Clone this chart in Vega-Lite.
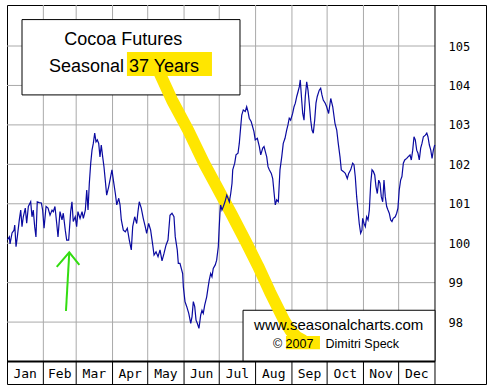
{
"$schema":"https://vega.github.io/schema/vega-lite/v6.json",
"width":479,"height":379,
"autosize":{"type":"none"},
"padding":{"left":7,"top":5,"right":5,"bottom":4},
"background":"white",
"config":{"view":{"stroke":"black","strokeWidth":1}},
"encoding":{
 "x":{"field":"d","type":"quantitative","scale":{"domain":[0,408.5],"nice":false,"zero":false},"axis":null},
 "y":{"field":"v","type":"quantitative","scale":{"domain":[96.43,106.04],"nice":false,"zero":false},
  "axis":{"orient":"right","values":[98,99,100,101,102,103,104,105],"ticks":false,"tickSize":0,"domain":false,"grid":false,"labelPadding":-38,"labelFont":"DejaVu Sans Mono","labelFontSize":12,"labelColor":"black","labelAlign":"left","title":null}}
},
"layer":[
 {"data":{"values":[{"v":98,"d":0,"d2":365},{"v":99,"d":0,"d2":365},{"v":100,"d":0,"d2":365},{"v":101,"d":0,"d2":365},{"v":102,"d":0,"d2":365},{"v":103,"d":0,"d2":365},{"v":104,"d":0,"d2":365},{"v":105,"d":0,"d2":365}]},
  "mark":{"type":"rule","color":"#aaaaaa","strokeWidth":1},
  "encoding":{"x2":{"field":"d2"}}},
 {"data":{"values":[{"d":31,"v":97,"v2":106.04},{"d":59,"v":97,"v2":106.04},{"d":90,"v":97,"v2":106.04},{"d":120,"v":97,"v2":106.04},{"d":151,"v":97,"v2":106.04},{"d":181,"v":97,"v2":106.04},{"d":212,"v":97,"v2":106.04},{"d":243,"v":97,"v2":106.04},{"d":273,"v":97,"v2":106.04},{"d":304,"v":97,"v2":106.04},{"d":334,"v":97,"v2":106.04}]},
  "mark":{"type":"rule","color":"#aaaaaa","strokeWidth":1},
  "encoding":{"y2":{"field":"v2"}}},
 {"data":{"values":[{"d":31,"v":96.43,"v2":97},{"d":59,"v":96.43,"v2":97},{"d":90,"v":96.43,"v2":97},{"d":120,"v":96.43,"v2":97},{"d":151,"v":96.43,"v2":97},{"d":181,"v":96.43,"v2":97},{"d":212,"v":96.43,"v2":97},{"d":243,"v":96.43,"v2":97},{"d":273,"v":96.43,"v2":97},{"d":304,"v":96.43,"v2":97},{"d":334,"v":96.43,"v2":97},{"d":365,"v":96.43,"v2":106.04}]},
  "mark":{"type":"rule","color":"black","strokeWidth":1},
  "encoding":{"y2":{"field":"v2"}}},
 {"data":{"values":[{"d":12.8,"d2":198.7,"v":105.67,"v2":103.76},{"d":201.3,"d2":365,"v":98.30,"v2":97.0}]},
  "mark":{"type":"rect","fill":"white","stroke":"black","strokeWidth":1},
  "encoding":{"x2":{"field":"d2"},"y2":{"field":"v2"}}},
 {"data":{"values":[{"v":97,"d":0,"d2":365}]},
  "mark":{"type":"rule","color":"black","strokeWidth":2},
  "encoding":{"x2":{"field":"d2"}}},
 {"data":{"values":[{"d":102.3,"d2":174.8,"v":104.85,"v2":104.24},{"d":237.9,"d2":266.9,"v":97.645,"v2":97.31}]},
  "mark":{"type":"rect","fill":"#ffe600"},
  "encoding":{"x2":{"field":"d2"},"y2":{"field":"v2"}}},
 {"data":{"values":[
  {"o":1,"d":130.5,"v":104.29},{"o":2,"d":140.7,"v":103.63},{"o":3,"d":154.4,"v":102.87},{"o":4,"d":168.0,"v":102.03},
  {"o":5,"d":179.1,"v":101.42},{"o":6,"d":191.9,"v":100.71},{"o":7,"d":203.8,"v":100.03},{"o":8,"d":214.1,"v":99.42},
  {"o":9,"d":224.3,"v":98.76},{"o":10,"d":236.2,"v":98.05},{"o":11,"d":242.2,"v":97.77},{"o":12,"d":247.3,"v":97.62},{"o":13,"d":252.4,"v":97.54}]},
  "mark":{"type":"line","color":"#ffe600","strokeWidth":12,"strokeCap":"round","strokeJoin":"round"},
  "encoding":{"order":{"field":"o"}}},
 {"data":{"values":[
  {"g":"a","o":1,"d":50.3,"v":98.28},{"g":"a","o":2,"d":53.1,"v":99.76},
  {"g":"b","o":1,"d":42.4,"v":99.40},{"g":"b","o":2,"d":53.1,"v":99.77},{"g":"b","o":3,"d":61.7,"v":99.45}]},
  "mark":{"type":"line","color":"#33dd11","strokeWidth":2},
  "encoding":{"detail":{"field":"g"},"order":{"field":"o"}}},
 {"data":{"values":[
{"d":0.3,"v":100.08},{"d":2.0,"v":100.16},{"d":2.6,"v":99.98},{"d":4.3,"v":100.26},{"d":6.0,"v":100.33},{"d":6.6,"v":100.46},{"d":7.7,"v":99.91},{"d":8.8,"v":100.16},{"d":10.5,"v":100.59},{"d":11.7,"v":100.84},{"d":12.8,"v":100.42},{"d":13.9,"v":100.67},{"d":15.6,"v":100.89},{"d":16.8,"v":100.51},{"d":18.2,"v":100.93},{"d":20.2,"v":101.05},{"d":21.3,"v":100.67},{"d":22.4,"v":100.84},{"d":23.6,"v":100.42},{"d":24.7,"v":100.16},{"d":25.8,"v":101.05},{"d":27.5,"v":101.03},{"d":29.3,"v":101.02},{"d":30.4,"v":100.84},{"d":31.6,"v":100.38},{"d":33.3,"v":100.93},{"d":35.0,"v":100.89},{"d":36.7,"v":100.71},{"d":38.4,"v":100.84},{"d":39.5,"v":100.80},{"d":40.9,"v":100.93},{"d":42.4,"v":100.50},{"d":43.5,"v":100.16},{"d":45.2,"v":100.80},{"d":46.9,"v":100.59},{"d":48.0,"v":100.76},{"d":49.7,"v":100.33},{"d":50.9,"v":100.08},{"d":52.6,"v":100.08},{"d":54.3,"v":100.80},{"d":55.4,"v":101.05},{"d":56.5,"v":100.55},{"d":58.2,"v":100.67},{"d":59.4,"v":100.42},{"d":60.5,"v":100.80},{"d":62.3,"v":100.63},{"d":64.0,"v":100.80},{"d":65.1,"v":100.63},{"d":66.8,"v":100.84},{"d":68.0,"v":101.35},{"d":69.1,"v":100.84},{"d":70.2,"v":101.52},{"d":71.4,"v":102.03},{"d":72.5,"v":102.36},{"d":73.6,"v":102.53},{"d":74.8,"v":102.79},{"d":75.9,"v":102.57},{"d":77.0,"v":102.62},{"d":78.2,"v":102.53},{"d":79.3,"v":102.19},{"d":80.4,"v":102.49},{"d":81.6,"v":102.19},{"d":82.7,"v":101.94},{"d":83.8,"v":101.60},{"d":85.0,"v":101.22},{"d":86.7,"v":101.43},{"d":88.4,"v":101.69},{"d":89.5,"v":101.86},{"d":90.7,"v":101.60},{"d":92.4,"v":101.26},{"d":93.6,"v":100.97},{"d":95.3,"v":101.14},{"d":96.4,"v":100.97},{"d":97.5,"v":100.59},{"d":99.2,"v":100.33},{"d":100.9,"v":100.29},{"d":102.6,"v":100.38},{"d":104.3,"v":100.08},{"d":106.0,"v":99.83},{"d":107.2,"v":100.42},{"d":108.9,"v":100.67},{"d":110.6,"v":100.50},{"d":111.7,"v":100.80},{"d":112.8,"v":101.05},{"d":114.5,"v":100.89},{"d":116.2,"v":100.63},{"d":117.9,"v":100.42},{"d":119.1,"v":100.25},{"d":120.8,"v":100.50},{"d":122.5,"v":100.33},{"d":124.3,"v":99.95},{"d":125.4,"v":99.70},{"d":127.1,"v":99.78},{"d":128.8,"v":99.66},{"d":130.5,"v":99.83},{"d":132.2,"v":99.55},{"d":133.9,"v":99.74},{"d":135.6,"v":99.95},{"d":137.3,"v":100.08},{"d":139.0,"v":100.71},{"d":140.7,"v":100.76},{"d":142.4,"v":100.67},{"d":143.5,"v":100.16},{"d":145.2,"v":99.83},{"d":146.1,"v":99.49},{"d":147.5,"v":99.49},{"d":149.8,"v":99.23},{"d":150.4,"v":98.90},{"d":151.8,"v":98.52},{"d":153.3,"v":98.39},{"d":155.0,"v":98.22},{"d":156.7,"v":97.97},{"d":157.8,"v":98.14},{"d":158.9,"v":98.52},{"d":160.1,"v":98.39},{"d":161.2,"v":98.05},{"d":162.3,"v":97.97},{"d":163.7,"v":97.84},{"d":165.2,"v":98.18},{"d":166.3,"v":98.30},{"d":167.4,"v":98.22},{"d":168.6,"v":98.43},{"d":170.3,"v":98.64},{"d":171.4,"v":98.86},{"d":172.5,"v":99.07},{"d":173.7,"v":99.23},{"d":174.8,"v":99.15},{"d":175.9,"v":99.36},{"d":177.6,"v":99.45},{"d":178.8,"v":99.57},{"d":180.2,"v":99.91},{"d":181.0,"v":100.42},{"d":181.6,"v":100.76},{"d":182.2,"v":100.97},{"d":183.3,"v":100.84},{"d":184.5,"v":100.93},{"d":185.9,"v":101.05},{"d":187.4,"v":101.22},{"d":188.5,"v":101.14},{"d":189.6,"v":101.05},{"d":190.8,"v":101.26},{"d":191.9,"v":101.52},{"d":192.5,"v":101.86},{"d":194.2,"v":102.03},{"d":195.3,"v":102.24},{"d":197.0,"v":102.28},{"d":198.1,"v":102.53},{"d":199.3,"v":102.95},{"d":200.2,"v":103.25},{"d":201.5,"v":103.38},{"d":203.2,"v":103.34},{"d":204.4,"v":103.46},{"d":205.5,"v":103.34},{"d":206.6,"v":103.17},{"d":208.3,"v":103.08},{"d":209.5,"v":102.95},{"d":210.6,"v":102.83},{"d":211.7,"v":102.62},{"d":213.5,"v":102.66},{"d":215.2,"v":102.45},{"d":216.4,"v":102.24},{"d":218.1,"v":102.41},{"d":219.2,"v":102.45},{"d":220.3,"v":102.32},{"d":221.5,"v":102.19},{"d":222.6,"v":101.94},{"d":223.7,"v":101.86},{"d":225.4,"v":101.77},{"d":226.6,"v":101.64},{"d":227.7,"v":101.30},{"d":228.8,"v":100.97},{"d":230.0,"v":101.10},{"d":231.4,"v":101.05},{"d":232.8,"v":101.86},{"d":234.3,"v":102.19},{"d":235.6,"v":102.53},{"d":237.1,"v":102.66},{"d":238.5,"v":102.87},{"d":239.6,"v":103.0},{"d":240.7,"v":103.17},{"d":241.9,"v":103.12},{"d":243.6,"v":103.29},{"d":244.8,"v":103.46},{"d":245.9,"v":103.55},{"d":247.1,"v":103.72},{"d":248.2,"v":103.84},{"d":249.3,"v":103.97},{"d":250.1,"v":104.14},{"d":251.3,"v":103.63},{"d":252.2,"v":103.29},{"d":253.3,"v":103.12},{"d":254.4,"v":103.72},{"d":255.6,"v":104.09},{"d":256.7,"v":103.88},{"d":257.8,"v":103.55},{"d":259.0,"v":103.12},{"d":260.1,"v":102.87},{"d":261.2,"v":102.79},{"d":262.4,"v":103.12},{"d":263.5,"v":103.55},{"d":264.6,"v":103.72},{"d":266.3,"v":103.88},{"d":267.5,"v":103.93},{"d":268.6,"v":103.76},{"d":269.7,"v":103.63},{"d":271.4,"v":103.55},{"d":272.6,"v":103.46},{"d":274.3,"v":103.29},{"d":276.1,"v":103.67},{"d":277.8,"v":103.46},{"d":279.7,"v":103.04},{"d":281.2,"v":102.87},{"d":282.5,"v":102.53},{"d":284.0,"v":102.19},{"d":285.1,"v":101.86},{"d":286.8,"v":101.82},{"d":288.5,"v":101.77},{"d":290.2,"v":101.64},{"d":291.4,"v":101.77},{"d":293.1,"v":101.86},{"d":294.8,"v":102.03},{"d":295.9,"v":101.99},{"d":297.0,"v":101.69},{"d":298.2,"v":101.18},{"d":299.3,"v":100.84},{"d":300.4,"v":100.50},{"d":301.6,"v":100.25},{"d":302.7,"v":100.33},{"d":303.3,"v":100.63},{"d":304.5,"v":100.50},{"d":305.6,"v":100.42},{"d":306.7,"v":100.67},{"d":307.9,"v":100.59},{"d":309.0,"v":100.84},{"d":310.2,"v":101.52},{"d":311.3,"v":101.86},{"d":312.4,"v":101.82},{"d":313.6,"v":101.73},{"d":314.7,"v":101.43},{"d":315.8,"v":101.26},{"d":317.0,"v":101.60},{"d":318.1,"v":101.52},{"d":319.2,"v":101.18},{"d":320.4,"v":101.05},{"d":321.5,"v":101.60},{"d":322.6,"v":101.18},{"d":323.8,"v":100.93},{"d":324.9,"v":100.84},{"d":326.0,"v":100.76},{"d":327.2,"v":100.59},{"d":328.3,"v":100.55},{"d":329.4,"v":100.63},{"d":331.1,"v":100.67},{"d":332.3,"v":100.76},{"d":333.4,"v":100.89},{"d":334.5,"v":101.35},{"d":335.7,"v":101.60},{"d":336.8,"v":101.69},{"d":338.0,"v":102.03},{"d":339.2,"v":102.11},{"d":340.9,"v":102.15},{"d":342.0,"v":102.19},{"d":343.7,"v":102.24},{"d":344.8,"v":102.11},{"d":346.0,"v":102.36},{"d":347.1,"v":102.70},{"d":348.2,"v":102.62},{"d":349.4,"v":102.36},{"d":350.5,"v":102.28},{"d":351.6,"v":102.11},{"d":352.8,"v":102.41},{"d":353.9,"v":102.53},{"d":355.1,"v":102.70},{"d":356.8,"v":102.74},{"d":358.0,"v":102.79},{"d":359.0,"v":102.70},{"d":360.2,"v":102.49},{"d":361.4,"v":102.36},{"d":362.5,"v":102.15},{"d":363.6,"v":102.36},{"d":364.8,"v":102.49}
 ]},
  "mark":{"type":"line","color":"#0a0aa0","strokeWidth":1.2}},
 {"data":{"values":[{"d":99.2,"v":105.025,"t":"Cocoa Futures"},{"d":99.8,"v":104.34,"t":"Seasonal 37 Years"}]},
  "mark":{"type":"text","font":"Liberation Sans","fontSize":18,"align":"center","baseline":"alphabetic","color":"black"},
  "encoding":{"text":{"field":"t"}}},
 {"data":{"values":[{"d":282.9,"v":97.81,"t":"www.seasonalcharts.com"}]},
  "mark":{"type":"text","font":"Liberation Sans","fontSize":15,"align":"center","baseline":"alphabetic","color":"black"},
  "encoding":{"text":{"field":"t"}}},
 {"data":{"values":[{"d":226.8,"v":97.354,"t":"© 2007"},{"d":271.6,"v":97.354,"t":"Dimitri Speck"}]},
  "mark":{"type":"text","font":"Liberation Sans","fontSize":12.5,"align":"left","baseline":"alphabetic","color":"black"},
  "encoding":{"text":{"field":"t"}}},
 {"data":{"values":[{"d":15.5,"v":96.593,"t":"Jan"},{"d":45,"v":96.593,"t":"Feb"},{"d":74.5,"v":96.593,"t":"Mar"},{"d":105,"v":96.593,"t":"Apr"},{"d":135.5,"v":96.593,"t":"May"},{"d":166,"v":96.593,"t":"Jun"},{"d":196.5,"v":96.593,"t":"Jul"},{"d":227.5,"v":96.593,"t":"Aug"},{"d":258,"v":96.593,"t":"Sep"},{"d":288.5,"v":96.593,"t":"Oct"},{"d":319,"v":96.593,"t":"Nov"},{"d":349.5,"v":96.593,"t":"Dec"}]},
  "mark":{"type":"text","font":"DejaVu Sans Mono","fontSize":13,"align":"center","baseline":"alphabetic","color":"black"},
  "encoding":{"text":{"field":"t"}}}
]
}
